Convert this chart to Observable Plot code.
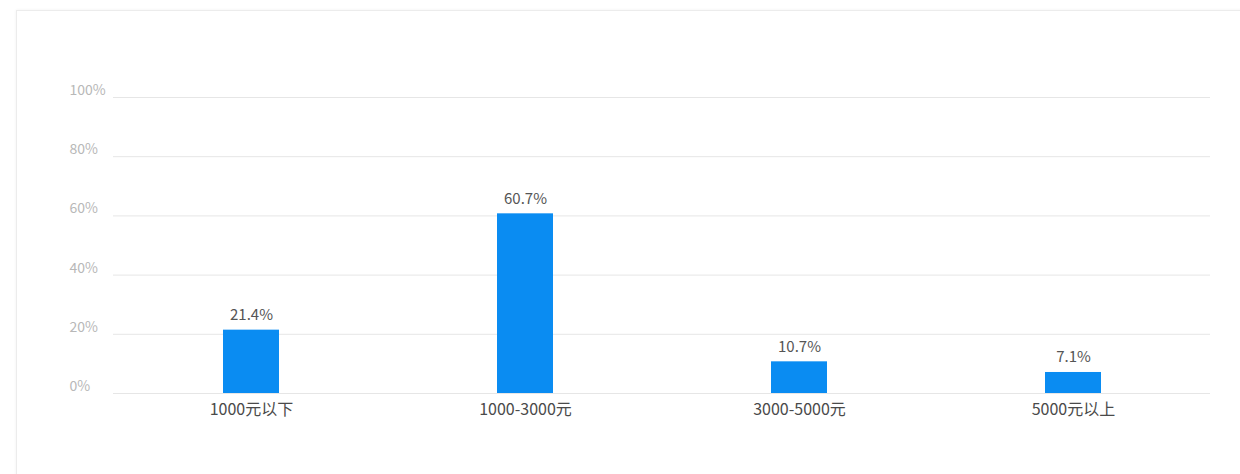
<!DOCTYPE html>
<html>
<head>
<meta charset="utf-8">
<script src="https://cdn.jsdelivr.net/npm/d3@7"></script>
<script src="https://cdn.jsdelivr.net/npm/@observablehq/plot@0.6"></script>
<style>
  html, body { margin: 0; padding: 0; background: #fff; }
  #wrap { position: relative; width: 1240px; height: 474px; overflow: hidden; }
  #card { position: absolute; left: 16px; top: 10px; width: 1240px; height: 480px;
          border: 1px solid #ececec; box-shadow: 0 0 3px rgba(0,0,0,0.06); }
  #chart { position: absolute; left: 0; top: 0; }
</style>
</head>
<body>
<div id="wrap">
  <div id="card"></div>
  <div id="chart"></div>
</div>
<script>
const categories = ["1000元以下", "1000-3000元", "3000-5000元", "5000元以上"];
const shares = [21.4, 60.7, 10.7, 7.1];
const yTicks = [0, 20, 40, 60, 80, 100];

const data = categories.map((c, i) => ({category: c, value: shares[i]}));
const font = "'Noto Sans CJK SC', 'Microsoft YaHei', sans-serif";

const chart = Plot.plot({
  width: 1240,
  height: 474,
  marginLeft: 113,
  marginRight: 30,
  marginTop: 97,
  marginBottom: 81,
  style: {fontFamily: font, background: "transparent"},
  x: {domain: categories, padding: 0, label: null},
  y: {domain: [0, 100], label: null},
  marks: [
    Plot.gridY(yTicks, {stroke: "#e6e6e6", strokeOpacity: 1, strokeWidth: 1}),
    Plot.axisY(yTicks, {
      tickSize: 0, tickFormat: d => d + "%", textAnchor: "start",
      dx: -35, dy: -7, fill: "#b8b8b8", fontSize: 14, label: null
    }),
    Plot.axisX({tickSize: 0, tickPadding: 10, fill: "#4a4a4a", fontSize: 16, label: null}),
    Plot.barY(data, {x: "category", y: "value", fill: "#0a8cf2", insetLeft: 109, insetRight: 109}),
    Plot.text(data, {x: "category", y: "value", text: d => d.value.toFixed(1) + "%",
      dy: -15, fill: "#555", fontSize: 15})
  ]
});
document.getElementById("chart").appendChild(chart);
</script>
</body>
</html>
